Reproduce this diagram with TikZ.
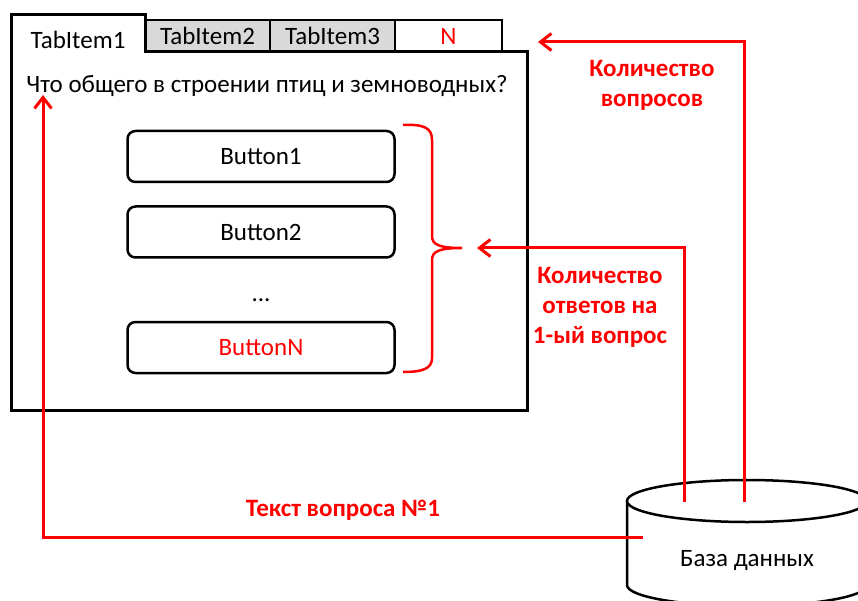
\documentclass[tikz,border=0pt]{standalone}
\usepackage{fontspec}
\setmainfont{Carlito}
\usetikzlibrary{arrows.meta, positioning, calc}
\tikzset{
  tabnode/.style  = {draw, line width=2.5pt, minimum width=125pt,
                     minimum height=32pt, fill=black!15},
  btnnode/.style  = {draw, line width=2.5pt, rounded corners=8pt,
                     minimum width=267pt, minimum height=51pt},
  redlbl/.style   = {text=red, font=\fontsize{25}{30}\selectfont\bfseries, align=center},
  flow/.style     = {-{Straight Barb[length=11pt,width=17pt]}, line width=3pt, red},
  window/.style   = {draw, line width=3pt},
}

\begin{document}
\begin{tikzpicture}[x=1pt, y=-1pt, font=\fontsize{25}{30}\selectfont]
    \useasboundingbox (0,0) rectangle (858,601);
    \clip (0,0) rectangle (858,601);
    % --- window -------------------------------------------------------
    \node[tabnode] (tab2) at (207.5,36) {TabItem2};
    \node[tabnode] (tab3) at (332.5,36) {TabItem3};
    \node[tabnode, fill=white, minimum width=107pt, text=red] (tabn) at (448.5,36) {N};
    \draw[window] (11,410) -- (11,15) -- (145,15) -- (145,52) -- (527,52)
                  -- (527,410) -- cycle;
    \node (tab1) at (78,40) {TabItem1};
    \node (q) at (267,86) {Что общего в строении птиц и земноводных?};
    % --- buttons ------------------------------------------------------
    \node[btnnode] (b1) at (261,156.5) {Button1};
    \node[btnnode] (b2) at (261,232)   {Button2};
    \node (dots)        at (261,300)   {...};
    \node[btnnode, text=red] (bn) at (261,347.5) {ButtonN};
    \coordinate (btip) at (462,248);
    \draw[red, line width=2.5pt]
          (403,125) .. controls (424,124) and (432,128) .. (432,140)
          -- (432,236) .. controls (432,245) and (440,248) .. (btip)
          .. controls (440,248) and (432,251) .. (432,260)
          -- (432,358) .. controls (432,368) and (424,372) .. (403,372);
    \coordinate (bin) at (477,248);
    % --- database -----------------------------------------------------
    \draw[line width=2.5pt, fill=white] (627,501) -- (627,585)
          arc[start angle=180, end angle=360, x radius=120pt, y radius=21pt]
          -- (867,501);
    \draw[line width=2.5pt, fill=white] (747,501) ellipse[x radius=120pt, y radius=21pt];
    \node (db) at (747,561) {База данных};
    \coordinate (dbin)  at (643,537);
    \coordinate (dbans) at (684,502);
    \coordinate (dbqn)  at (744,502);
    \coordinate (qin)   at (43,95);
    \coordinate (tabin) at (538,42);
    % --- flows --------------------------------------------------------
    \draw[flow] (dbin)  -| (qin);
    \draw[flow] (dbans) |- (bin);
    \draw[flow] (dbqn)  |- (tabin);
    \node[redlbl] (lq)   at (343,510) {Текст вопроса №1};
    \node[redlbl] (lans) at (600,307) {Количество\\ответов на\\1-ый вопрос};
    \node[redlbl] (lnum) at (652,85)  {Количество\\вопросов};
\end{tikzpicture}
\end{document}
